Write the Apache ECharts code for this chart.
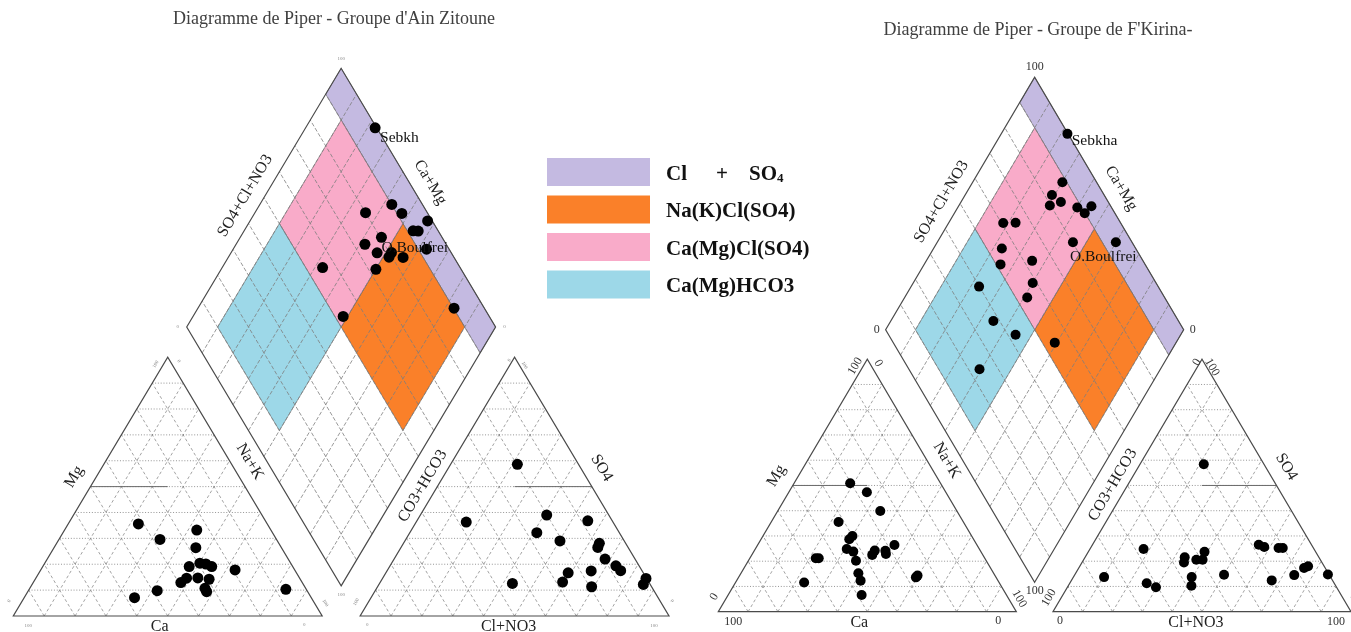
<!DOCTYPE html>
<html>
<head>
<meta charset="utf-8">
<script src="https://cdn.jsdelivr.net/npm/echarts@6/dist/echarts.min.js"></script>
<style>
  html, body { margin: 0; padding: 0; background: #ffffff; }
  #chart { width: 1351px; height: 632px; }
</style>
</head>
<body>
<div id="chart"></div>
<script>
// ---- Piper geometry, in percent units: two triangles of side 100 and a diamond above them ----
const SIDE = 100;
const TRI_H = SIDE * Math.sqrt(3) / 2;
const GAP = 12.3;      // space between cation and anion triangles
const LIFT = 10.1;     // height of the diamond's lower corner above the base line
const X_EXTENT = 2 * SIDE + GAP;
const Y_EXTENT = LIFT + 2 * TRI_H;

const titles = [
  "Diagramme de Piper - Groupe d'Ain Zitoune",
  "Diagramme de Piper - Groupe de F'Kirina-"
];

// Water facies fields of the diamond: [Ca+Mg from, Ca+Mg to, SO4+Cl from, SO4+Cl to]
const faciesNames = ['Cl + SO4', 'Na(K)Cl(SO4)', 'Ca(Mg)Cl(SO4)', 'Ca(Mg)HCO3'];
const faciesBounds = [[0, 100, 90, 100], [10, 50, 50, 90], [50, 90, 50, 90], [50, 90, 10, 50]];
const faciesColors = ['#c4bae1', '#fa8029', '#f9abc9', '#9dd8e8'];

// ---- Ain Zitoune ----
// cations: [Ca %, Mg %]  (Na+K is the rest)
const zitouneCations = [
  [41.7, 35.6], [37.7, 29.6], [24.0, 33.2], [27.7, 26.4], [33.5, 19.1], [29.4, 20.4],
  [27.6, 20.1], [26.2, 19.1], [19.3, 17.8], [36.6, 14.6], [39.3, 12.9], [32.9, 14.7],
  [29.5, 14.2], [32.6, 10.7], [32.7, 9.4], [48.5, 9.8], [57.2, 7.1], [6.6, 10.3]
];
// anions: [Cl+NO3 %, SO4 %]  (CO3+HCO3 is the rest)
const zitouneAnions = [
  [21.6, 58.6], [16.2, 36.3], [40.9, 39.0], [55.3, 36.8], [41.1, 32.2], [50.2, 29.0],
  [63.4, 28.1], [63.7, 26.5], [68.3, 22.0], [73.1, 19.4], [75.6, 17.5], [59.0, 16.7],
  [66.1, 17.4], [59.0, 13.1], [69.3, 11.3], [43.0, 12.6], [85.3, 14.5], [85.6, 12.2]
];
// diamond: [Ca+Mg %, SO4+Cl+NO3 %]
const zitouneDiamond = [
  [77.5, 99.5], [64.2, 80.0], [57.3, 90.1], [52.3, 91.6], [42.5, 98.5], [45.3, 91.9],
  [43.6, 93.5], [54.3, 80.4], [58.3, 73.7], [52.7, 76.0], [48.1, 80.7], [48.0, 79.0],
  [43.4, 83.5], [37.4, 92.7], [67.5, 55.5], [49.9, 72.4], [51.4, 52.7], [17.1, 90.2]
];
const zitouneNamed = [[0, 'Sebkh'], [7, 'O.Boulfrei']];

// ---- F'Kirina ----
const kirinaCations = [
  [30.3, 50.9], [26.5, 47.3], [25.7, 39.9], [41.9, 35.5], [40.0, 30.0], [41.7, 28.7],
  [44.5, 24.8], [42.8, 23.8], [43.7, 20.2], [55.7, 21.2], [56.7, 21.2], [37.1, 22.5],
  [35.4, 24.2], [31.9, 24.1], [32.3, 22.9], [27.7, 26.4], [45.4, 15.2], [46.1, 12.3],
  [48.6, 6.6], [65.4, 11.6], [26.0, 14.3], [26.9, 13.6]
];
const kirinaAnions = [
  [21.4, 58.4], [18.0, 24.8], [10.3, 13.7], [25.8, 11.3], [29.7, 9.7], [33.4, 21.6],
  [34.2, 19.5], [37.8, 20.6], [39.9, 20.6], [39.0, 23.7], [39.7, 13.7], [41.3, 10.3],
  [50.1, 14.6], [55.8, 26.5], [58.1, 25.6], [63.1, 25.2], [64.5, 25.2], [67.2, 12.4],
  [73.7, 14.5], [75.6, 17.3], [76.6, 18.0], [84.9, 14.7]
];
const kirinaDiamond = [
  [77.8, 99.8], [69.9, 88.5], [70.9, 82.5], [66.5, 84.1], [69.5, 79.7], [59.9, 88.5],
  [56.3, 89.9], [55.4, 93.5], [81.7, 60.6], [77.6, 64.8], [77.1, 55.1], [74.4, 51.5],
  [64.5, 62.8], [54.5, 80.2], [40.1, 94.6], [59.9, 58.6], [58.9, 53.9], [77.2, 39.9],
  [65.6, 37.9], [55.4, 42.6], [60.7, 23.7], [40.7, 54.2]
];
const kirinaNamed = [[0, 'Sebkha'], [13, 'O.Boulfrei']];

// ---- ternary -> plane transforms ----
function cationPt(ca, mg) {
  const nak = 100 - ca - mg;
  return [nak + mg / 2, mg * TRI_H / 100];
}
function anionPt(cl, so4) {
  return [SIDE + GAP + cl + so4 / 2, so4 * TRI_H / 100];
}
function diamondPt(camg, so4cl) {
  return [SIDE + GAP / 2 + (so4cl - camg) / 2, LIFT + (camg + so4cl) * TRI_H / 100];
}

const SERIF = "'Liberation Serif', 'Times New Roman', serif";

// corner values printed next to each vertex: anchor, text, pixel offset, rotation (deg)
const cornerTicks = [
  [diamondPt(100, 100), '100', [0, -10], 0],
  [diamondPt(100, 0), '0', [-9, 0], 0],
  [diamondPt(0, 100), '0', [9, 0], 0],
  [diamondPt(0, 0), '100', [0, 9], 0],
  [cationPt(100, 0), '100', [15, 10], 0],
  [cationPt(0, 0), '0', [-18, 9], 0],
  [cationPt(100, 0), '0', [-4, -15], 60],
  [cationPt(0, 100), '100', [-12, 7], 60],
  [cationPt(0, 100), '0', [11, 4], -60],
  [cationPt(0, 0), '100', [3, -13], -60],
  [anionPt(0, 0), '0', [7, 9], 0],
  [anionPt(100, 0), '100', [-15, 10], 0],
  [anionPt(0, 0), '100', [-4, -14], 60],
  [anionPt(0, 100), '0', [-5, 3], 60],
  [anionPt(0, 100), '100', [10, 8], -60],
  [anionPt(100, 0), '0', [3, -15], -60]
];

function frameRenderer(panel) {
  return function (params, api) {
    const P = p => api.coord(p);
    const kids = [];
    const dashed = { stroke: '#8c8c8c', lineWidth: 0.8, lineDash: [3, 2.5] };
    const diamondDash = { stroke: '#7d7d7d', lineWidth: 0.8, lineDash: [4, 2] };
    const dotted = { stroke: '#7a7a7a', lineWidth: 0.8, lineDash: [1, 1.8] };
    const solid = { stroke: '#6a6a6a', lineWidth: 1 };
    const seg = (a, b, style) => {
      const pa = P(a), pb = P(b);
      kids.push({ type: 'line', shape: { x1: pa[0], y1: pa[1], x2: pb[0], y2: pb[1] }, style: style });
    };
    for (let k = 10; k < 100; k += 10) {
      // cation triangle
      seg(cationPt(100 - k, k), cationPt(0, k), dotted);
      seg(cationPt(k, 0), cationPt(k, 100 - k), dashed);
      seg(cationPt(100 - k, 0), cationPt(0, 100 - k), dashed);
      // anion triangle
      seg(anionPt(0, k), anionPt(100 - k, k), dotted);
      seg(anionPt(k, 0), anionPt(k, 100 - k), dashed);
      seg(anionPt(100 - k, 0), anionPt(0, 100 - k), dashed);
      // diamond
      seg(diamondPt(k, 0), diamondPt(k, 100), diamondDash);
      seg(diamondPt(0, k), diamondPt(100, k), diamondDash);
    }
    // half-way marks at 50 %
    seg(cationPt(50, 50), [cationPt(0, 100)[0], cationPt(50, 50)[1]], solid);
    seg([anionPt(0, 100)[0], anionPt(0, 50)[1]], anionPt(50, 50), solid);

    // outlines
    const outline = pts => kids.push({
      type: 'polygon', shape: { points: pts.map(P) },
      style: { fill: 'none', stroke: '#4a4a4a', lineWidth: 1.2 }
    });
    outline([cationPt(100, 0), cationPt(0, 0), cationPt(0, 100)]);
    outline([anionPt(0, 0), anionPt(100, 0), anionPt(0, 100)]);
    outline([diamondPt(0, 0), diamondPt(0, 100), diamondPt(100, 100), diamondPt(100, 0)]);

    // axis names set along the edges
    const text = (x, y, str, rot, size, color) => kids.push({
      type: 'text', x: x, y: y, rotation: rot,
      style: { text: str, fill: color, fontSize: size, fontFamily: SERIF, align: 'center', verticalAlign: 'middle' }
    });
    const edgeLabel = (a, b, inner, str, out, along) => {
      const pa = P(a), pb = P(b), pc = P(inner);
      const dx = pb[0] - pa[0], dy = pb[1] - pa[1], len = Math.hypot(dx, dy);
      const ux = dx / len, uy = dy / len;
      let nx = -uy, ny = ux;
      const mx = (pa[0] + pb[0]) / 2, my = (pa[1] + pb[1]) / 2;
      if ((pc[0] - mx) * nx + (pc[1] - my) * ny > 0) { nx = -nx; ny = -ny; }
      text(mx + nx * out + ux * along, my + ny * out + uy * along, str, -Math.atan2(dy, dx), 16, '#222');
    };
    const dC = diamondPt(50, 50), cC = cationPt(33, 33), aC = anionPt(33, 33);
    edgeLabel(diamondPt(100, 0), diamondPt(100, 100), dC, 'SO4+Cl+NO3', 17, -8);
    edgeLabel(diamondPt(100, 100), diamondPt(0, 100), dC, 'Ca+Mg', 18, -7);
    edgeLabel(cationPt(100, 0), cationPt(0, 100), cC, 'Mg', 19, 0);
    edgeLabel(cationPt(0, 100), cationPt(0, 0), cC, 'Na+K', 17, -19);
    edgeLabel(anionPt(0, 0), anionPt(0, 100), aC, 'CO3+HCO3', 13, -7);
    edgeLabel(anionPt(0, 100), anionPt(100, 0), aC, 'SO4', 18, -11);
    const cb = P(cationPt(50, 0)), ab = P(anionPt(50, 0));
    text(cb[0] - 8, cb[1] + 11, 'Ca', 0, 16, '#222');
    text(ab[0] - 6, ab[1] + 11, 'Cl+NO3', 0, 16, '#222');

    // corner values
    cornerTicks.forEach(([pt, str, off, deg]) => {
      const p = P(pt);
      text(p[0] + off[0], p[1] + off[1], str, deg * Math.PI / 180, panel.tickFont, panel.tickColor);
    });
    return { type: 'group', children: kids };
  };
}

const panels = [
  {
    title: titles[0], titleCenter: [334, 20],
    grid: { left: 13.3, top: 68.3, width: 655.7, height: 547.7 },
    cations: zitouneCations, anions: zitouneAnions, diamond: zitouneDiamond, named: zitouneNamed,
    labelPos: [[10.5, 15.5], [5.5, 16.5]], dot: 11, tickFont: 5, tickColor: '#8a8a8a'
  },
  {
    title: titles[1], titleCenter: [1038, 31],
    grid: { left: 718.3, top: 77.3, width: 640.5, height: 534.4 },
    cations: kirinaCations, anions: kirinaAnions, diamond: kirinaDiamond, named: kirinaNamed,
    labelPos: [[9.3, 12.4], [2, 19.4]], dot: 10, tickFont: 12, tickColor: '#333'
  }
];

const series = [];
panels.forEach((panel, p) => {
  faciesNames.forEach((name, i) => {
    series.push({
      type: 'custom', name: name, xAxisIndex: p, yAxisIndex: p, z: 1, silent: true,
      itemStyle: { color: faciesColors[i] },
      data: [faciesBounds[i]],
      renderItem: (params, api) => {
        const c0 = api.value(0), c1 = api.value(1), s0 = api.value(2), s1 = api.value(3);
        const pts = [diamondPt(c0, s0), diamondPt(c1, s0), diamondPt(c1, s1), diamondPt(c0, s1)].map(q => api.coord(q));
        return {
          type: 'polygon', shape: { points: pts },
          style: { fill: faciesColors[i], stroke: 'rgba(70,70,70,0.55)', lineWidth: 0.8 }
        };
      }
    });
  });
  series.push({
    type: 'custom', name: 'frame' + p, xAxisIndex: p, yAxisIndex: p, z: 2, silent: true,
    data: [[0, 0]], renderItem: frameRenderer(panel)
  });
  const pointStyle = { type: 'scatter', xAxisIndex: p, yAxisIndex: p, z: 3, silent: true,
    symbol: 'circle', symbolSize: panel.dot, itemStyle: { color: '#000', opacity: 1 } };
  series.push(Object.assign({ name: 'cations' + p, data: panel.cations.map(v => cationPt(v[0], v[1])) }, pointStyle));
  series.push(Object.assign({ name: 'anions' + p, data: panel.anions.map(v => anionPt(v[0], v[1])) }, pointStyle));
  const diamondData = panel.diamond.map(v => ({ value: diamondPt(v[0], v[1]) }));
  panel.named.forEach(([idx, label], j) => {
    diamondData[idx].label = {
      show: true, formatter: label, position: panel.labelPos[j],
      align: 'left', verticalAlign: 'middle',
      fontFamily: SERIF, fontSize: 15.5, color: '#111'
    };
  });
  series.push(Object.assign({ name: 'diamond' + p, data: diamondData }, pointStyle));
});

const legendRich = {
  a: { width: 50, fontFamily: SERIF, fontWeight: 'bold', fontSize: 21, color: '#111' },
  p: { width: 33, fontFamily: SERIF, fontWeight: 'bold', fontSize: 21, color: '#111' },
  b: { fontFamily: SERIF, fontWeight: 'bold', fontSize: 21, color: '#111' },
  s: { fontFamily: SERIF, fontWeight: 'bold', fontSize: 13, color: '#111', verticalAlign: 'bottom', lineHeight: 12 }
};

const option = {
  animation: false,
  backgroundColor: '#ffffff',
  title: panels.map(panel => ({
    text: panel.title, left: panel.titleCenter[0], top: panel.titleCenter[1] - 10,
    textAlign: 'center', padding: 0,
    textStyle: { fontFamily: SERIF, fontWeight: 'normal', fontSize: 18, color: '#404040' }
  })),
  legend: {
    orient: 'vertical', left: 547, top: 158, padding: 0,
    itemWidth: 103, itemHeight: 28, itemGap: 9.5, selectedMode: false,
    data: faciesNames.map((n, i) => ({ name: n, icon: 'rect', itemStyle: { color: faciesColors[i] } })),
    formatter: name => name === faciesNames[0] ? '{a|Cl}{p|+}{b|SO}{s|4}' : name,
    textStyle: { fontFamily: SERIF, fontWeight: 'bold', fontSize: 21, color: '#111', padding: [5, 0, 0, 11], rich: legendRich }
  },
  grid: panels.map(panel => Object.assign({ containLabel: false }, panel.grid)),
  xAxis: panels.map((panel, p) => ({ type: 'value', gridIndex: p, min: 0, max: X_EXTENT, show: false })),
  yAxis: panels.map((panel, p) => ({ type: 'value', gridIndex: p, min: 0, max: Y_EXTENT, show: false })),
  series: series
};

const chart = echarts.init(document.getElementById('chart'));
chart.setOption(option);
</script>
</body>
</html>
